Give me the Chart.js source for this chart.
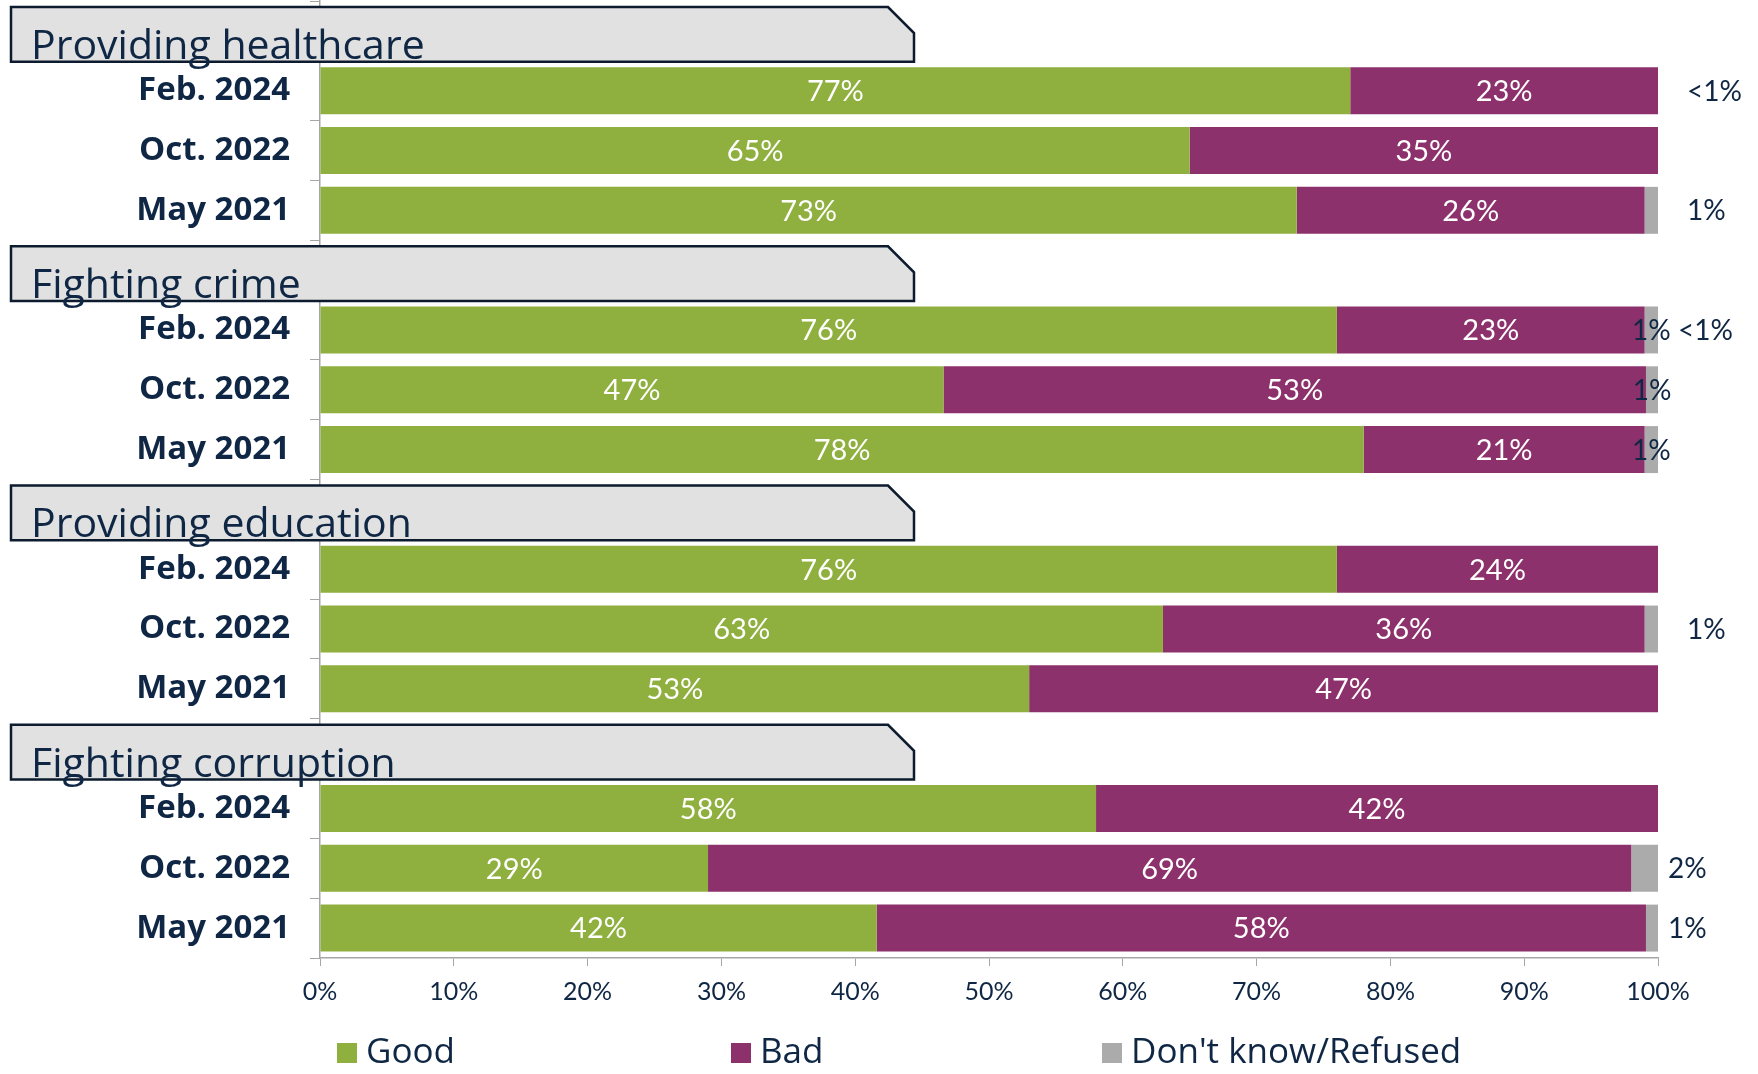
<!DOCTYPE html>
<html>
<head>
<meta charset="utf-8">
<script src="https://cdn.jsdelivr.net/npm/chart.js@4.4.1/dist/chart.umd.min.js"></script>
<style>
  html, body { margin: 0; padding: 0; background: #fff; }
  #wrap { width: 1758px; height: 1074px; position: relative; }
</style>
</head>
<body>
<div id="wrap"><canvas id="chart"></canvas></div>
<script>
const topics = ['Providing healthcare', 'Fighting crime', 'Providing education', 'Fighting corruption'];
const waves = ['Feb. 2024', 'Oct. 2022', 'May 2021'];
const seriesNames = ['Good', 'Bad', "Don't know/Refused"];

// one value per row: topic by topic, waves in the order above
const good = [77, 65, 73, 76, 46.6, 78, 76, 63, 53, 58, 29, 41.6];
const bad = [23, 35, 26, 23, 52.5, 21, 24, 36, 47, 42, 69, 57.5];
const dontKnow = [0, 0, 1, 1, 0.9, 1, 0, 1, 0, 0, 2, 0.9];
const dontKnowText = ['<1%', '', '1%', '1%', '1%', '1%', '', '1%', '', '', '2%', '1%'];
const extraText = ['', '', '', '<1%', '', '', '', '', '', '', '', ''];
const xTickLabels = ['0%', '10%', '20%', '30%', '40%', '50%', '60%', '70%', '80%', '90%', '100%'];

const NAVY = '#0f2744';
const COLORS = ['#8faf3e', '#8c316b', '#ababab'];
const FONT = "'Open Sans'";
const NUM_FONT = 'Lato';

// every topic gets a header row, then one row per wave
const rowLabels = [];
topics.forEach(t => { rowLabels.push(t); waves.forEach(w => rowLabels.push(w)); });
function spread(values) {
    const out = [];
    topics.forEach((t, ti) => {
        out.push(null);
        waves.forEach((w, wi) => out.push(values[ti * waves.length + wi]));
    });
    return out;
}
function rowIndex(i) {
    const ti = Math.floor(i / 4);
    return ti * waves.length + (i % 4) - 1;
}

// where the "don't know" label sits, per topic: px right of the plot, or null = on the bar
const dkOffset = [29, null, 29, 10];

const barLabels = {
    id: 'barLabels',
    afterDatasetsDraw(chart) {
        const ctx = chart.ctx;
        const right = chart.chartArea.right;
        ctx.save();
        ctx.textBaseline = 'middle';
        [0, 1].forEach(di => {
            chart.getDatasetMeta(di).data.forEach((bar, i) => {
                const v = chart.data.datasets[di].data[i];
                if (v == null || v === 0) return;
                ctx.font = '29px ' + NUM_FONT;
                ctx.fillStyle = '#fff';
                ctx.textAlign = 'center';
                ctx.fillText(Math.round(v) + '%', (bar.x + bar.base) / 2, bar.y + 1);
            });
        });
        chart.getDatasetMeta(2).data.forEach((bar, i) => {
            if (i % 4 === 0) return;
            const r = rowIndex(i);
            const off = dkOffset[Math.floor(i / 4)];
            ctx.font = '28px ' + NUM_FONT;
            ctx.fillStyle = NAVY;
            if (dontKnowText[r]) {
                if (off === null) {
                    ctx.textAlign = 'center';
                    ctx.fillText(dontKnowText[r], (bar.x + bar.base) / 2, bar.y + 1);
                } else {
                    ctx.textAlign = 'left';
                    ctx.fillText(dontKnowText[r], right + off, bar.y + 1);
                }
            }
            if (extraText[r]) {
                ctx.textAlign = 'left';
                ctx.fillText(extraText[r], right + 20, bar.y + 1);
            }
        });
        ctx.restore();
    }
};

const headers = {
    id: 'headers',
    afterDraw(chart) {
        const ctx = chart.ctx;
        const y = chart.scales.y;
        const half = (y.getPixelForValue(1) - y.getPixelForValue(0)) / 2;
        ctx.save();
        topics.forEach((t, ti) => {
            const c = y.getPixelForValue(ti * 4);
            const top = c - half + 6, bottom = c + half + 1;
            const left = 11, rightEdge = 914, cut = 26;
            ctx.beginPath();
            ctx.moveTo(left, top);
            ctx.lineTo(rightEdge - cut, top);
            ctx.lineTo(rightEdge, top + cut);
            ctx.lineTo(rightEdge, bottom);
            ctx.lineTo(left, bottom);
            ctx.closePath();
            ctx.fillStyle = '#e1e1e1';
            ctx.fill();
            ctx.lineWidth = 2.5;
            ctx.strokeStyle = '#0d1b2e';
            ctx.stroke();
            ctx.fillStyle = NAVY;
            ctx.font = '41px ' + FONT;
            ctx.textAlign = 'left';
            ctx.textBaseline = 'alphabetic';
            ctx.fillText(t, 31, bottom - 3);
        });

        // legend
        const legendX = [337, 731, 1102];
        seriesNames.forEach((name, i) => {
            ctx.fillStyle = COLORS[i];
            ctx.fillRect(legendX[i], 1043, 20, 20);
            ctx.fillStyle = NAVY;
            ctx.font = '35px ' + FONT;
            ctx.fillText(name, legendX[i] + 29, 1063);
        });
        ctx.restore();
    }
};

const ctx = document.getElementById('chart').getContext('2d');
const chart = new Chart(ctx, {
    type: 'bar',
    data: {
        labels: rowLabels,
        datasets: [
            { label: seriesNames[0], data: spread(good), backgroundColor: COLORS[0] },
            { label: seriesNames[1], data: spread(bad), backgroundColor: COLORS[1] },
            { label: seriesNames[2], data: spread(dontKnow), backgroundColor: COLORS[2] }
        ]
    },
    options: {
        indexAxis: 'y',
        responsive: true,
        maintainAspectRatio: false,
        animation: false,
        barPercentage: 0.785,
        categoryPercentage: 1,
        layout: { padding: { left: 0, top: 1, right: 100, bottom: 66 } },
        plugins: {
            legend: { display: false },
            tooltip: { enabled: false }
        },
        scales: {
            x: {
                stacked: true,
                min: 0,
                max: 100,
                ticks: {
                    stepSize: 10,
                    color: NAVY,
                    font: { family: NUM_FONT, size: 25 },
                    padding: 11,
                    callback: (v, i) => xTickLabels[i]
                },
                grid: { drawOnChartArea: false, tickLength: 8, color: '#a6a6a6' },
                border: { color: '#a6a6a6', width: 1.5 },
                afterFit: s => { s.height = 50; s.paddingLeft = 0; s.paddingRight = 0; }
            },
            y: {
                stacked: true,
                ticks: {
                    color: NAVY,
                    font: { family: FONT, size: 33, weight: 'bold' },
                    padding: 20,
                    autoSkip: false,
                    callback: function (v, i) { return i % 4 === 0 ? '' : this.getLabelForValue(v); }
                },
                grid: { drawOnChartArea: false, tickLength: 10, color: '#a6a6a6' },
                border: { color: '#a6a6a6', width: 1.5 },
                afterFit: s => { s.width = 320; s.paddingTop = 0; s.paddingBottom = 0; }
            }
        }
    },
    plugins: [barLabels, headers]
});
</script>
</body>
</html>
